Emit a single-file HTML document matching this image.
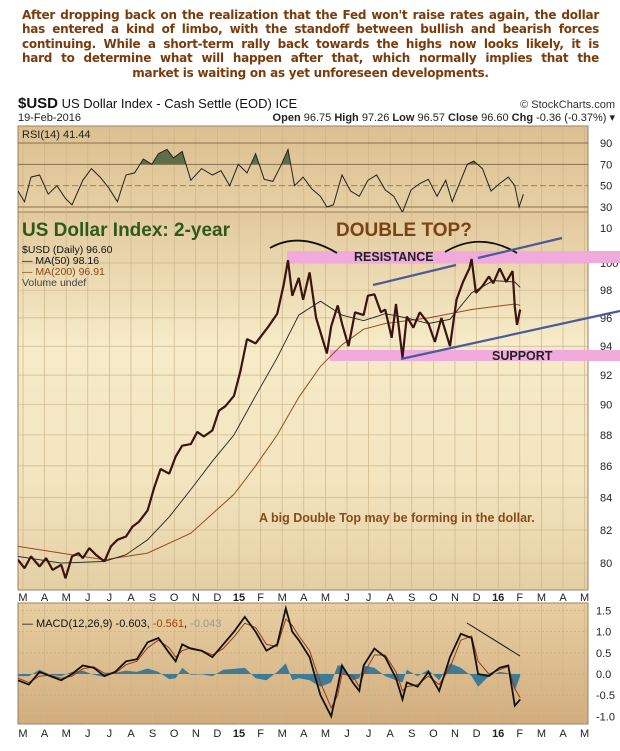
<!DOCTYPE html>
<html><head><meta charset="utf-8">
<style>
body{margin:0;background:#fff;width:620px;height:751px;overflow:hidden;font-family:"Liberation Sans",sans-serif}
#intro{position:absolute;left:22px;top:8px;width:577px;font:bold 12px "DejaVu Sans","Liberation Sans",sans-serif;color:#7a3c0c;line-height:14.4px;letter-spacing:-0.25px}
#intro div{text-align:justify;text-align-last:justify;white-space:nowrap}
#intro div.last{text-align-last:center}
svg{position:absolute;left:0;top:0}
</style></head>
<body>
<div id="intro">
<div>After dropping back on the realization that the Fed won't raise rates again, the dollar</div>
<div>has entered a kind of limbo, with the standoff between bullish and bearish forces</div>
<div>continuing. While a short-term rally back towards the highs now looks likely, it is</div>
<div>hard to determine what will happen after that, which normally implies that the</div>
<div class="last">market is waiting on as yet unforeseen developments.</div>
</div>
<svg id="chart" width="620" height="751">
<defs>
<linearGradient id="gRsi" x1="0" y1="0" x2="0" y2="1"><stop offset="0" stop-color="#dcc090"/><stop offset="1" stop-color="#e6d0a4"/></linearGradient>
<linearGradient id="gMain" x1="0" y1="0" x2="0" y2="1"><stop offset="0" stop-color="#e2c99c"/><stop offset="0.35" stop-color="#f6ebc8"/><stop offset="0.7" stop-color="#f3e5c0"/><stop offset="1" stop-color="#e4cfa4"/></linearGradient>
<linearGradient id="gMacd" x1="0" y1="0" x2="0" y2="1"><stop offset="0" stop-color="#e7cfa2"/><stop offset="1" stop-color="#d2ad7e"/></linearGradient>
<clipPath id="cRsi"><rect x="18" y="126" width="570" height="86"/></clipPath>
<clipPath id="cOB"><rect x="18" y="126" width="570" height="38.3"/></clipPath>
<clipPath id="cMain"><rect x="18" y="212" width="570" height="378"/></clipPath>
<clipPath id="cMacd"><rect x="18" y="603" width="570" height="121"/></clipPath>
</defs>
</svg>
<script>
// ---- data ----
const months=["M","A","M","J","J","A","S","O","N","D","15","F","M","A","M","J","J","A","S","O","N","D","16","F","M","A","M"];
const priceT=[0,0.3,0.6,1,1.3,1.6,2,2.2,2.5,2.8,3,3.3,3.6,4,4.3,4.6,5,5.3,5.6,6,6.3,6.6,7,7.3,7.6,8,8.3,8.6,9,9.3,9.6,10,10.3,10.6,11,11.3,11.6,12,12.3,12.5,12.7,13,13.2,13.5,13.8,14,14.3,14.5,14.8,15,15.3,15.6,16,16.2,16.5,16.8,17,17.3,17.5,17.8,18,18.3,18.6,19,19.3,19.6,20,20.3,20.6,20.9,21,21.2,21.5,21.8,22,22.3,22.6,22.9,23,23.1,23.25];
const priceV=[80.2,79.7,80.4,79.8,80.3,79.6,79.9,79.1,80.4,80.6,80.3,80.9,80.5,80.1,81.0,81.4,81.6,82.2,82.5,83.2,84.6,85.8,85.5,86.6,87.3,87.4,88.2,87.9,88.3,89.6,89.9,90.6,92.3,94.5,94.2,94.8,95.4,96.3,98.4,100.2,97.6,98.9,97.3,99.3,96.0,95.0,93.5,95.4,96.9,95.6,94.0,96.4,96.2,97.6,97.7,96.4,96.6,94.6,97.0,93.2,96.1,95.3,96.4,95.6,94.3,96.0,94.0,97.3,98.6,99.6,100.3,97.8,98.3,99.0,98.5,99.6,98.6,99.4,96.8,95.5,96.6];
const ma50T=[0,2,4,5,6,7,8,9,10,11,12,13,14,15,16,17,18,19,20,21,22,23,23.25];
const ma50V=[80.4,80.0,80.1,80.5,81.4,82.8,84.5,86.3,88.0,90.6,93.2,96.2,97.2,96.2,95.8,96.3,96.0,95.6,95.9,97.8,98.7,98.6,98.2];
const ma200T=[0,2,4,6,8,10,11,12,13,14,15,16,17,18,19,20,21,22,23,23.25];
const ma200V=[81.0,80.6,80.2,80.6,81.8,84.2,86.0,88.0,90.5,92.6,94.1,95.2,95.6,95.8,96.0,96.3,96.6,96.8,97.0,96.9];
const rsiT=[0,0.3,0.6,1,1.4,1.8,2.2,2.5,3,3.4,3.8,4.2,4.6,5,5.4,5.8,6.2,6.5,6.9,7.2,7.6,8,8.5,9,9.4,9.8,10.2,10.6,11,11.4,11.8,12.2,12.5,12.8,13.2,13.6,14,14.3,14.6,15,15.4,15.8,16.2,16.6,17,17.4,17.8,18.2,18.6,19,19.4,19.8,20.1,20.4,20.8,21.1,21.5,21.9,22.3,22.7,23,23.2,23.4];
const rsiV=[45,35,58,60,42,50,38,32,55,66,58,48,35,60,62,75,70,80,84,76,82,55,66,60,64,50,70,62,80,56,54,70,84,50,58,47,40,30,32,60,45,40,55,60,46,40,25,46,52,56,40,55,35,50,70,73,66,45,52,58,50,30,42];
const macdT=[0,0.5,1,1.5,2,2.5,3,3.5,4,4.5,5,5.5,6,6.5,7,7.3,7.6,8,8.5,9,9.5,10,10.5,11,11.5,12,12.4,12.7,13,13.5,14,14.5,14.8,15,15.5,15.8,16,16.5,17,17.5,17.8,18,18.5,19,19.5,20,20.5,21,21.3,21.8,22.3,22.7,23,23.25];
const macdV=[-0.15,-0.25,0.05,-0.05,-0.15,0.0,0.2,0.15,-0.05,0.05,0.3,0.35,0.75,0.85,0.5,0.3,0.7,0.6,0.55,0.4,0.7,1.0,1.35,1.0,0.55,0.7,1.55,1.0,0.8,0.4,-0.5,-1.0,-0.3,0.2,-0.2,-0.4,0.2,0.6,0.4,-0.1,-0.6,-0.2,-0.3,0.05,-0.4,0.4,0.95,0.85,0.0,-0.05,0.15,0.2,-0.75,-0.6];
const signalV=[-0.1,-0.2,-0.05,-0.03,-0.1,-0.05,0.12,0.17,0.02,0.02,0.22,0.3,0.62,0.8,0.62,0.4,0.55,0.62,0.56,0.45,0.6,0.88,1.2,1.1,0.7,0.65,1.3,1.15,0.9,0.55,-0.2,-0.8,-0.5,0.0,-0.05,-0.3,0.0,0.45,0.45,0.05,-0.4,-0.3,-0.25,-0.05,-0.25,0.15,0.8,0.9,0.3,0.0,0.1,0.18,-0.35,-0.56];
const priceTicks=[80,82,84,86,88,90,92,94,96,98,100];
const rsiTicks=[30,50,70,90];
const macdTicks=[-1.0,-0.5,0.0,0.5,1.0,1.5];

// ---- scales ----
const L=18,R=588;
const x=t=>18+21.6*t;
const yP=p=>263+1345*Math.log(100/p);
const yR=v=>207-(v-30)*64/60;
const yM=v=>674-v*42.3;
const NS="http://www.w3.org/2000/svg";
const svg=document.getElementById('chart');
function mk(tag,attrs,parent){const e=document.createElementNS(NS,tag);for(const k in attrs)e.setAttribute(k,attrs[k]);(parent||svg).appendChild(e);return e;}
function txt(s,xx,yy,st,parent){const e=mk('text',{x:xx,y:yy,style:st},parent);e.textContent=s;return e;}
function path(ts,vs,fy){return ts.map((t,i)=>(i?'L':'M')+x(t).toFixed(1)+','+fy(vs[i]).toFixed(1)).join('');}

// panels
let p;
p=mk('rect',{x:L,y:126,width:R-L,height:86,fill:'url(#gRsi)',stroke:'#9a8060'});


p=mk('rect',{x:L,y:212,width:R-L,height:378,fill:'url(#gMain)',stroke:'#9a8060'});


p=mk('rect',{x:L,y:603,width:R-L,height:121,fill:'url(#gMacd)',stroke:'#9a8060'});



// vertical grid + month labels
months.forEach((m,i)=>{
  const xx=x(i)+5;
  [[126,212],[212,590],[603,724]].forEach(([a,b])=>{mk('line',{x1:xx,x2:xx,y1:a,y2:b,stroke:'#cdb58a','stroke-width':0.7});});
  const bold=(m==="15"||m==="16")?'font-weight:bold;':'';
  let t=txt(m,xx,601,'font-size:11px;fill:#222;text-anchor:middle;'+bold);
  
  
  t=txt(m,xx,737,'font-size:11px;fill:#222;text-anchor:middle;'+bold);
  
  
});
// horizontal grids + labels
priceTicks.forEach(v=>{mk('line',{x1:L,x2:R,y1:yP(v),y2:yP(v),stroke:'#cdb58a','stroke-width':0.7});
  const t=txt(String(v),600,yP(v)+4,'font-size:11px;fill:#222');
  
  });
rsiTicks.forEach(v=>{mk('line',{x1:L,x2:R,y1:yR(v),y2:yR(v),stroke:v===50?'#8a7a60':'#8a7050','stroke-width':v===50?0.8:1,'stroke-dasharray':v===50?'6,3':''});
  const t=txt(String(v),600,yR(v)+4,'font-size:11px;fill:#222');
  
  });
{const t=txt('10',600,232,'font-size:11px;fill:#222');}
macdTicks.forEach(v=>{mk('line',{x1:L,x2:R,y1:yM(v),y2:yM(v),stroke:'#c9a87a','stroke-width':0.7,'stroke-dasharray':'2,2'});
  const t=txt(v.toFixed(1),596,yM(v)+4,'font-size:11px;fill:#222');
  
  });

// RSI
const rd=path(rsiT,rsiV,yR);
let e=mk('path',{d:rd+'L'+x(rsiT[rsiT.length-1])+','+yR(70)+'L'+x(rsiT[0])+','+yR(70)+'Z',fill:'#5f6e48',stroke:'none','clip-path':'url(#cOB)'});


e=mk('path',{d:rd,fill:'none',stroke:'#222','stroke-width':1,'clip-path':'url(#cRsi)'});



// header text
let h=txt('',18,108,'font-size:13px;fill:#111');
h.innerHTML='<tspan style="font-weight:bold;font-size:15px">$USD</tspan> US Dollar Index - Cash Settle (EOD) ICE';


h=txt('© StockCharts.com',615,108,'font-size:11px;fill:#333;text-anchor:end');


h=txt('19-Feb-2016',18,121,'font-size:11px;fill:#222');


h=txt('',615,121,'font-size:11px;fill:#222;text-anchor:end');
h.innerHTML='<tspan font-weight="bold">Open</tspan> 96.75 <tspan font-weight="bold">High</tspan> 97.26 <tspan font-weight="bold">Low</tspan> 96.57 <tspan font-weight="bold">Close</tspan> 96.60 <tspan font-weight="bold">Chg</tspan> -0.36 (-0.37%) ▾';


h=txt('RSI(14) 41.44',22,138,'font-size:11px;fill:#222');



// bands
e=mk('rect',{x:287,y:251,width:333,height:12,fill:'#f0aadc'});


e=mk('rect',{x:330,y:350,width:290,height:11,fill:'#f0aadc'});



// MAs and price
e=mk('path',{d:path(ma200T,ma200V,yP),fill:'none',stroke:'#9a4a1c','stroke-width':1,'clip-path':'url(#cMain)'});


e=mk('path',{d:path(ma50T,ma50V,yP),fill:'none',stroke:'#222','stroke-width':0.9,'clip-path':'url(#cMain)'});


e=mk('path',{d:path(priceT,priceV,yP),fill:'none',stroke:'#3a1410','stroke-width':2.2,'stroke-linejoin':'bevel','clip-path':'url(#cMain)'});



// annotations
e=mk('path',{d:'M270,248 Q300,231 337,253',fill:'none',stroke:'#111','stroke-width':1.8});


e=mk('path',{d:'M445,252 Q480,231 517,253',fill:'none',stroke:'#111','stroke-width':1.8});


e=mk('line',{x1:373,y1:285,x2:456,y2:265,stroke:'#4a5a9a','stroke-width':2.2});


e=mk('line',{x1:478,y1:258,x2:562,y2:238,stroke:'#4a5a9a','stroke-width':2.2});


e=mk('line',{x1:401,y1:359,x2:620,y2:311,stroke:'#4a5a9a','stroke-width':2.2});



h=txt('US Dollar Index: 2-year',22,236,'font-size:19px;font-weight:bold;fill:#2d5a1c');


h=txt('DOUBLE TOP?',336,236,'font-size:19px;font-weight:bold;fill:#7a4316');


h=txt('RESISTANCE',354,261,'font-size:12.5px;font-weight:bold;fill:#222');


h=txt('SUPPORT',492,360,'font-size:12.5px;font-weight:bold;fill:#222');


h=txt('A big Double Top may be forming in the dollar.',259,522,'font-size:12.5px;font-weight:bold;fill:#8a4a18');



// price legend
const lg=[['$USD (Daily) 96.60','#111',253],['— MA(50) 98.16','#111',264],['— MA(200) 96.91','#8a4a1c',275],['Volume undef','#444',286]];
lg.forEach(([s,c,yy])=>{const t=txt(s,22,yy,'font-size:10.5px;fill:'+c);
  
  });

// MACD
const hist=mk('g',{'clip-path':'url(#cMacd)'});


let hd='M'+x(macdT[0])+','+yM(0);
macdT.forEach((t,i)=>{hd+='L'+x(t).toFixed(1)+','+yM(macdV[i]-signalV[i]).toFixed(1);});
hd+='L'+x(macdT[macdT.length-1])+','+yM(0)+'Z';
mk('path',{d:hd,fill:'#3f7a96',stroke:'none'},hist);
e=mk('path',{d:path(macdT,signalV,yM),fill:'none',stroke:'#9a3a14','stroke-width':1,'clip-path':'url(#cMacd)'});


e=mk('path',{d:path(macdT,macdV,yM),fill:'none',stroke:'#111','stroke-width':1.8,'clip-path':'url(#cMacd)'});


e=mk('line',{x1:467,y1:623,x2:520,y2:656,stroke:'#111','stroke-width':1});


h=txt('',22,627,'font-size:11px;fill:#111');
h.innerHTML='— MACD(12,26,9) -0.603, <tspan fill="#a04010">-0.561</tspan>, <tspan fill="#999">-0.043</tspan>';


</script>
</body></html>
